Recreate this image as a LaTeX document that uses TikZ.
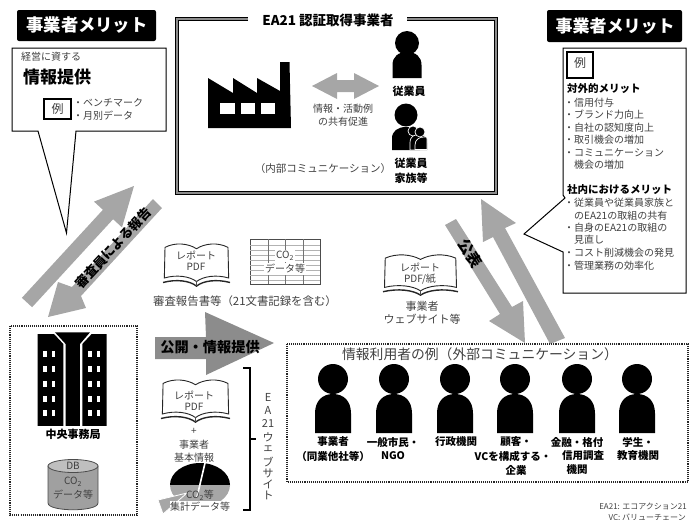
\documentclass[tikz,border=0pt]{standalone}
\usepackage{fontspec}
\setmainfont{Noto Sans CJK JP}
\newcommand{\szz}[1]{\fontsize{#1}{#1}\selectfont}
\definecolor{txtg}{HTML}{404040}
\definecolor{arrg}{HTML}{A6A6A6}
\definecolor{bigg}{HTML}{8C8C8C}
\definecolor{dbg}{HTML}{A0A0A0}
\tikzset{
  lbl/.style={inner sep=0pt,text=txtg,font=\szz{#1}},
  lbl/.default=10,
  bld/.style={inner sep=0pt,text=black,font=\szz{#1}\bfseries},
  bld/.default=11,
  header/.style={fill=black,rounded corners=2pt},
  callout/.style={draw=black,fill=white,line width=1pt,line join=miter},
  farrow/.style={fill=arrg},
  dotbox/.style={draw=black!85,line width=1.1pt,dash pattern=on 1.1pt off 1pt},
  exbox/.style={draw=black,fill=white,line width=1.3pt},
  bookline/.style={draw=black!85,fill=white,line width=.8pt}
}
\newcommand{\mybook}[4]{%
  \begin{scope}[shift={(#1,#2)},x=#3pt,y=-#4pt]
    \fill[white] (.5,.15) .. controls (.38,.03) and (.18,0) .. (.03,.12) -- (0,.85) .. controls (.2,.78) and (.4,.84) .. (.5,.98) .. controls (.6,.84) and (.8,.78) .. (1,.85) -- (.97,.12) .. controls (.82,0) and (.62,.03) .. (.5,.15) -- cycle;
    \draw[black!85,line width=.9pt] (.5,.15) .. controls (.38,.03) and (.18,0) .. (.03,.12) -- (.02,.8) .. controls (.2,.72) and (.4,.76) .. (.5,.88) .. controls (.6,.76) and (.8,.72) .. (.98,.8) -- (.97,.12) .. controls (.82,0) and (.62,.03) .. (.5,.15);
    \draw[black!85,line width=1.4pt] (0,.9) .. controls (.2,.82) and (.4,.86) .. (.5,.98) .. controls (.6,.86) and (.8,.82) .. (1,.9);
    \draw[black!70,line width=.6pt] (.5,.86) -- (.5,.97);
  \end{scope}}
\newcommand{\mybody}[4]{% cx, top, halfwidth, height
  \begin{scope}[shift={(#1,#2)},x=#3pt,y=-#4pt]
    \fill[black] (-1,1) -- (-1,.5) .. controls (-1,.18) and (-.6,0) .. (0,0) .. controls (.6,0) and (1,.18) .. (1,.5) -- (1,1) -- cycle;
  \end{scope}}
\newcommand{\myperson}[1]{%
  \fill[black] (#1,379) circle[radius=15pt];
  \mybody{#1}{394}{18}{39}}
\begin{document}
\begin{tikzpicture}[x=1pt,y=-1pt]
\useasboundingbox (0,0) rectangle (689,520);

% gray report arrows
\fill[farrow] (32.1,307.2) -- (21.9,297.8) -- (102.9,209.8) -- (94,201.6) -- (134,186) -- (122,227.4) -- (113.1,219.2) -- cycle;
\fill[farrow] (153,199) -- (162,208) -- (81,296) -- (86,308) -- (48,317) -- (58,282) -- (72,287) -- cycle;
\node[bld=13,rotate=47] (auditreport) at (113,248) {審査員による報告};

% publication arrows
\fill[farrow] (565,338) -- (550,344) -- (493,237) -- (483,242) -- (481,199) -- (516,223) -- (505,228) -- cycle;
\fill[farrow] (445,225) -- (456,219) -- (512,307) -- (523,301) -- (525,343) -- (489,321) -- (500,314) -- cycle;
\node[bld=15,rotate=-58] (publish) at (470,253) {公表};

% left header + callout
\fill[header] (17,10) rectangle (156,41);
\node[inner sep=0pt,text=white,font=\szz{17.3}\bfseries] (headL) at (87,25) {事業者メリット};
\draw[callout] (12,48) -- (166,48) -- (166,131) -- (76,131) -- (66.5,233) -- (38,131) -- (12,131) -- cycle;
\node[lbl=10,anchor=west] (management) at (21,57) {経営に資する};
\node[bld=17,anchor=west] (infoprov) at (23,77) {情報提供};
\draw[exbox] (44,99) rectangle (71,119);
\node[lbl=12] (exL) at (57.5,109) {例};
\node[lbl=10,anchor=west] (bench) at (73,103) {・ベンチマーク};
\node[lbl=10,anchor=west] (monthly) at (73,116) {・月別データ};

% main box
\draw[black,line width=4pt] (248,19) -- (177,19) -- (177,193) -- (496,193) -- (496,19) -- (407,19);
\draw[black!45,line width=1.4pt] (248,19) -- (177,19) -- (177,193) -- (496,193) -- (496,19) -- (407,19);
\node[bld=13.5] (maintitle) at (328,20) {EA21 認証取得事業者};

% factory
\fill[black] (208,78) -- (233,93) -- (233,78) -- (257,93) -- (257,78) -- (280,91) -- (280,62) -- (289.5,62) -- (291,128) -- (208,128) -- cycle;
\fill[white] (220,103) rectangle (235,114);
\fill[white] (241,103) rectangle (255,114);
\fill[white] (261,103) rectangle (275,114);

% internal double arrow
\fill[farrow] (312,86) -- (337,73) -- (337,80) -- (354,80) -- (354,73) -- (379,86) -- (354,99) -- (354,92) -- (337,92) -- (337,99) -- cycle;
\node[lbl=10] (share1) at (343,109) {情報・活動例};
\node[lbl=10] (share2) at (343,122) {の共有促進};

% employee
\fill[black] (407,43) circle[radius=12pt];
\mybody{407}{52}{14.5}{26}
\node[bld=11] (emp) at (409,91) {従業員};
% family
\fill[black] (406,115) circle[radius=11.5pt];
\mybody{406}{127}{14}{23}
\begin{scope}
\fill[black,draw=white,line width=.7pt] (410,150) -- (410,143) .. controls (410,136) and (415,134) .. (419,134) .. controls (423,134) and (427,136) .. (427,143) -- (427,150) -- cycle;
\fill[black,draw=white,line width=.7pt] (415,149.5) -- (415,145) .. controls (415,139) and (420,137) .. (424,137) .. controls (428,137) and (426,137) .. (427,139) -- (427,149.5) -- cycle;
\fill[black,draw=white,line width=.7pt] (413,131) circle[radius=5pt];
\fill[black,draw=white,line width=.7pt] (420,132) circle[radius=5pt];
\end{scope}
\node[bld=11] (fam1) at (411,163) {従業員};
\node[bld=11] (fam2) at (411,178) {家族等};
\node[lbl=10.5] (internal) at (323,169) {（内部コミュニケーション）};

% right header + callout
\fill[header] (547,10) rectangle (682,42);
\node[inner sep=0pt,text=white,font=\szz{17}\bfseries] (headR) at (615,26) {事業者メリット};
\draw[callout] (563,48) -- (686,48) -- (686,293) -- (563,293) -- (563,252) -- (524,234) -- (565,198) -- (563,195) -- cycle;
\draw[exbox] (567,52) rectangle (593,78);
\node[lbl=12] (exR) at (580,63) {例};
\node[bld=10.5,anchor=west] (extm) at (567,89) {対外的メリット};
\node[lbl=10,anchor=west] (r1) at (564,103) {・信用付与};
\node[lbl=10,anchor=west] (r2) at (564,115) {・ブランド力向上};
\node[lbl=10,anchor=west] (r3) at (564,128) {・自社の認知度向上};
\node[lbl=10,anchor=west] (r4) at (564,140) {・取引機会の増加};
\node[lbl=10,anchor=west] (r5) at (564,153) {・コミュニケーション};
\node[lbl=10,anchor=west] (r6) at (574,165) {機会の増加};
\node[bld=10.5,anchor=west] (intm) at (567,190) {社内におけるメリット};
\node[lbl=10,anchor=west] (r7) at (564,203) {・従業員や従業員家族と};
\node[lbl=10,anchor=west] (r8) at (574,216) {のEA21の取組の共有};
\node[lbl=10,anchor=west] (r9) at (564,228) {・自身のEA21の取組の};
\node[lbl=10,anchor=west] (r10) at (574,240) {見直し};
\node[lbl=10,anchor=west] (r11) at (564,253) {・コスト削減機会の発見};
\node[lbl=10,anchor=west] (r12) at (564,266) {・管理業務の効率化};

% middle: report + table
\mybook{163}{242}{67}{45}
\node[lbl=10] (bk1a) at (196,255) {レポート};
\node[lbl=10] (bk1b) at (196,267) {PDF};
\draw[black!70,line width=.9pt] (250,239) rectangle (320,284);
\foreach \yy in {245,250,255,260,265,270,275,280} \draw[black!30,line width=.5pt] (250,\yy) -- (320,\yy);
\foreach \xx in {268,285,303} \draw[black!55,line width=.5pt] (\xx,239) -- (\xx,284);
\node[lbl=10,fill=white,inner sep=1pt] (co2a) at (285,256) {CO\textsubscript{2}};
\node[lbl=10,fill=white,inner sep=1pt] (co2b) at (285,269) {データ等};
\node[lbl=11.4] (auditdocs) at (245,301) {審査報告書等（21文書記録を含む）};

% big arrow
\fill[bigg] (155,337) -- (206,337) -- (205,312) -- (274,343) -- (206,375) -- (206,359) -- (155,359) -- cycle;
\node[bld=14.2] (pub) at (210,347) {公開・情報提供};

% third report
\mybook{383}{253}{75}{43}
\node[lbl=10] (bk3a) at (420,267) {レポート};
\node[lbl=10] (bk3b) at (420,279) {PDF/紙};
\node[lbl=11] (site1) at (422,306) {事業者};
\node[lbl=11] (site2) at (422,319) {ウェブサイト等};

% left dotted box
\draw[dotbox] (10,326) rectangle (137,515);
\begin{scope}[shift={(0,320)},x=.3333pt,y=-.3333pt]
  \fill[black] (113,42) -- (162,42) -- (190,72) -- (190,318) -- (113,318) -- cycle;
  \fill[black] (320,42) -- (275,42) -- (247,72) -- (247,318) -- (320,318) -- cycle;
  \fill[black] (165,37) -- (270,37) -- (240,72) -- (240,318) -- (197,318) -- (197,72) -- cycle;
  \foreach \yy in {92,138,182,228,270} {
    \fill[white] (130,\yy) rectangle (140,\yy+19);
    \fill[white] (155,\yy) rectangle (165,\yy+19);
    \fill[white] (265,\yy) rectangle (275,\yy+19);
    \fill[white] (290,\yy) rectangle (300,\yy+19);
  }
\end{scope}
\node[bld=11] (central) at (73,434) {中央事務局};
% database
\fill[dbg,draw=black!70,line width=.8pt] (48,466) -- (48,503) .. controls (48,512) and (98,512) .. (98,503) -- (98,466) -- cycle;
\fill[black!25,draw=black!70,line width=.8pt] (73,466) ellipse[x radius=25pt,y radius=6.5pt];
\node[lbl=10] (db) at (73,466) {DB};
\node[lbl=10] (dbco) at (73,482) {CO\textsubscript{2}};
\node[lbl=10] (dbdata) at (73,495) {データ等};

% second report, pie
\mybook{161}{378}{69}{45}
\node[lbl=10] (bk2a) at (194,395) {レポート};
\node[lbl=10] (bk2b) at (194,407) {PDF};
\node[lbl=10] (plus) at (194,431) {+};
\node[lbl=10] (basic1) at (194,445) {事業者};
\node[lbl=10] (basic2) at (194,458) {基本情報};
\fill[black] (170,485) arc[start angle=180,end angle=0,x radius=30pt,y radius=22pt] -- cycle;
\fill[arrg] (170,485) arc[start angle=180,end angle=360,x radius=30pt,y radius=22pt] -- cycle;
\fill[arrg,draw=white,line width=.8pt] (187,493) -- (158,500) -- (163,514) -- cycle;
\draw[white,line width=1.6pt] (205,463) -- (197,497);
\node[inner sep=0pt,fill=white,minimum width=62pt,minimum height=14pt] (piebg) at (201,508) {};
\node[lbl=10] (pie1) at (200,495) {CO\textsubscript{2}等};
\node[lbl=10] (pie2) at (200,507) {集計データ等};

% bracket and vertical text
\draw[black,line width=1.3pt] (243,368) -- (250,368) -- (250,510) -- (243,510);
\draw[black,line width=1.3pt] (250,439) -- (256,439);
\node[lbl=11] (v1) at (268,397) {E};
\node[lbl=11] (v2) at (268,410) {A};
\node[lbl=11] (v3) at (268,424) {21};
\node[lbl=11] (v4) at (268,437) {ウ};
\node[lbl=11] (v5) at (268,449) {ェ};
\node[lbl=11] (v6) at (268,462) {ブ};
\node[lbl=11] (v7) at (268,473) {サ};
\node[lbl=11] (v8) at (268,484) {イ};
\node[lbl=11] (v9) at (268,495) {ト};

% right dotted box
\draw[dotbox] (287,344) rectangle (688,482);
\node[lbl=13.8] (users) at (480,354) {情報利用者の例（外部コミュニケーション）};
\myperson{333}\myperson{394}\myperson{455}\myperson{515}\myperson{577}\myperson{637}
\node[bld=10.5] (p1a) at (333,442) {事業者};
\node[bld=10.5] (p1b) at (333,456) {（同業他社等）};
\node[bld=10.5] (p2a) at (393,442) {一般市民・};
\node[bld=10.5] (p2b) at (393,456) {NGO};
\node[bld=10.5] (p3a) at (456,442) {行政機関};
\node[bld=10.5] (p4a) at (516,442) {顧客・};
\node[bld=10.5] (p4b) at (513,456) {VCを構成する・};
\node[bld=10.5] (p4c) at (516,470) {企業};
\node[bld=10.5] (p5a) at (577,442) {金融・格付};
\node[bld=10.5] (p5b) at (583,456) {信用調査};
\node[bld=10.5] (p5c) at (577,470) {機関};
\node[bld=10.5] (p6a) at (638,442) {学生・};
\node[bld=10.5] (p6b) at (638,456) {教育機関};

% footer
\node[lbl=8,anchor=east] (fn1) at (687,506) {EA21: エコアクション21};
\node[lbl=8,anchor=east] (fn2) at (686,517) {VC: バリューチェーン};
\end{tikzpicture}
\end{document}
